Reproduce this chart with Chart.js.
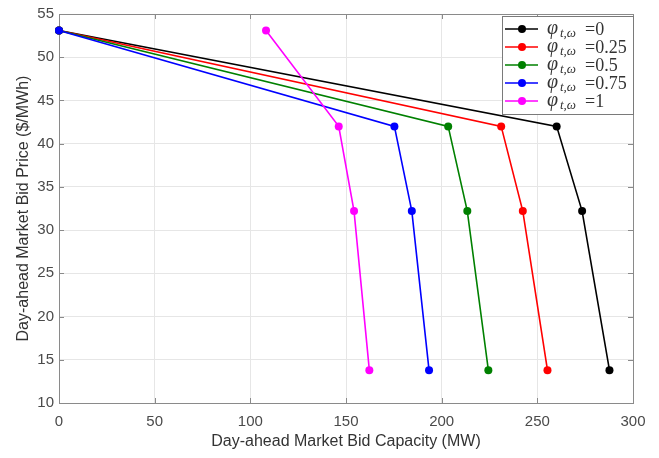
<!DOCTYPE html>
<html>
<head>
<meta charset="utf-8">
<script src="https://cdn.jsdelivr.net/npm/chart.js@4/dist/chart.umd.min.js"></script>
<style>
  html, body { margin: 0; padding: 0; background: #fff; }
</style>
</head>
<body>
<canvas id="myChart" width="659" height="458"></canvas>
<script>
  // bid price levels (shared by every curve)
  const prices = [53.1, 42, 32.2, 13.8]
  // bid capacities, one array per phi value
  const cap0 = [0, 260.1, 273.4, 287.7]
  const cap025 = [0, 231.1, 242.4, 255.3]
  const cap05 = [0, 203.4, 213.4, 224.4]
  const cap075 = [0, 175.3, 184.4, 193.4]
  const cap1 = [108.2, 146.2, 154.2, 162.2]
  const phiValues = ['0', '0.25', '0.5', '0.75', '1']
  const colors = ['#000000', '#ff0000', '#008000', '#0000ff', '#ff00ff']
  const xTicks = [0, 50, 100, 150, 200, 250, 300]
  const yTicks = [10, 15, 20, 25, 30, 35, 40, 45, 50, 55]

  const series = [cap0, cap025, cap05, cap075, cap1]

  // box + inward ticks like matlab axes
  const axesBox = {
    id: 'axesBox',
    beforeDatasetsDraw(chart) {
      const { ctx, chartArea: a, scales } = chart
      ctx.save()
      ctx.strokeStyle = '#8a8a8a'
      ctx.lineWidth = 1
      ctx.beginPath()
      xTicks.forEach(v => {
        const px = Math.round(scales.x.getPixelForValue(v)) + 0.5
        ctx.moveTo(px, a.bottom); ctx.lineTo(px, a.bottom - 5)
        ctx.moveTo(px, a.top); ctx.lineTo(px, a.top + 5)
      })
      yTicks.forEach(v => {
        const py = Math.round(scales.y.getPixelForValue(v)) + 0.5
        ctx.moveTo(a.left, py); ctx.lineTo(a.left + 5, py)
        ctx.moveTo(a.right, py); ctx.lineTo(a.right - 5, py)
      })
      ctx.stroke()
      ctx.strokeRect(Math.round(a.left) + 0.5, Math.round(a.top) + 0.5,
        Math.round(a.right - a.left), Math.round(a.bottom - a.top))
      ctx.restore()
    }
  }

  // legend with subscripted phi
  const phiLegend = {
    id: 'phiLegend',
    afterDraw(chart) {
      const { ctx, chartArea: a } = chart
      const w = 131, h = 98
      const x0 = Math.round(a.right - w), y0 = Math.round(a.top + 2)
      ctx.save()
      ctx.fillStyle = '#fff'
      ctx.fillRect(x0, y0, w, h)
      ctx.strokeStyle = '#7a7a7a'
      ctx.lineWidth = 1
      ctx.strokeRect(x0 + 0.5, y0 + 0.5, w, h)
      phiValues.forEach((val, i) => {
        const y = y0 + 13 + i * 18
        ctx.strokeStyle = colors[i]
        ctx.lineWidth = 1.5
        ctx.beginPath()
        ctx.moveTo(x0 + 3, y); ctx.lineTo(x0 + 36, y)
        ctx.stroke()
        ctx.fillStyle = colors[i]
        ctx.beginPath()
        ctx.arc(x0 + 20, y, 4, 0, Math.PI * 2)
        ctx.fill()
        ctx.fillStyle = '#333'
        ctx.textBaseline = 'alphabetic'
        ctx.textAlign = 'left'
        ctx.font = 'italic 20px "Liberation Serif"'
        ctx.fillText('\u03C6', x0 + 45, y + 5)
        ctx.font = 'italic 13px "Liberation Serif"'
        ctx.fillText('t,\u03C9', x0 + 58, y + 8)
        ctx.font = '18px "Liberation Serif"'
        ctx.fillText('=' + val, x0 + 83, y + 6)
      })
      ctx.restore()
    }
  }

  const ctx = document.getElementById('myChart')
  // eslint-disable-next-line no-unused-vars
  const myChart = new Chart(ctx, {
    type: 'scatter',
    data: {
      datasets: series.map((caps, i) => ({
        label: 'phi = ' + phiValues[i],
        data: caps.map((c, j) => ({ x: c, y: prices[j] })),
        showLine: true,
        borderColor: colors[i],
        backgroundColor: colors[i],
        borderWidth: 1.6,
        pointRadius: 4,
        pointHoverRadius: 4,
        pointBorderWidth: 0,
        clip: false,
        order: 5 - i
      }))
    },
    options: {
      responsive: false,
      animation: false,
      layout: { padding: { top: 13, right: 26, left: 0, bottom: 0 } },
      scales: {
        x: {
          type: 'linear',
          min: 0,
          max: 300,
          afterBuildTicks: s => { s.ticks = xTicks.map(v => ({ value: v })) },
          afterFit: s => { s.height = 55 },
          ticks: { color: '#4a4a4a', font: { family: 'Liberation Sans', size: 15 }, padding: 10 },
          grid: { color: '#e6e6e6', drawTicks: false },
          border: { display: false },
          title: {
            display: true,
            text: 'Day-ahead Market Bid Capacity (MW)',
            color: '#333',
            font: { family: 'Liberation Sans', size: 16 },
            padding: { top: 0, bottom: 7 }
          }
        },
        y: {
          type: 'linear',
          min: 10,
          max: 55,
          afterBuildTicks: s => { s.ticks = yTicks.map(v => ({ value: v })) },
          afterFit: s => { s.width = 59 },
          ticks: { color: '#4a4a4a', font: { family: 'Liberation Sans', size: 15 }, padding: 5 },
          grid: { color: '#e6e6e6', drawTicks: false },
          border: { display: false },
          title: {
            display: true,
            text: 'Day-ahead Market Bid Price ($/MWh)',
            color: '#333',
            font: { family: 'Liberation Sans', size: 16 },
            padding: { top: 14, bottom: 0 }
          }
        }
      },
      plugins: {
        legend: { display: false },
        tooltip: { enabled: false }
      }
    },
    plugins: [axesBox, phiLegend]
  })
</script>
</body>
</html>
